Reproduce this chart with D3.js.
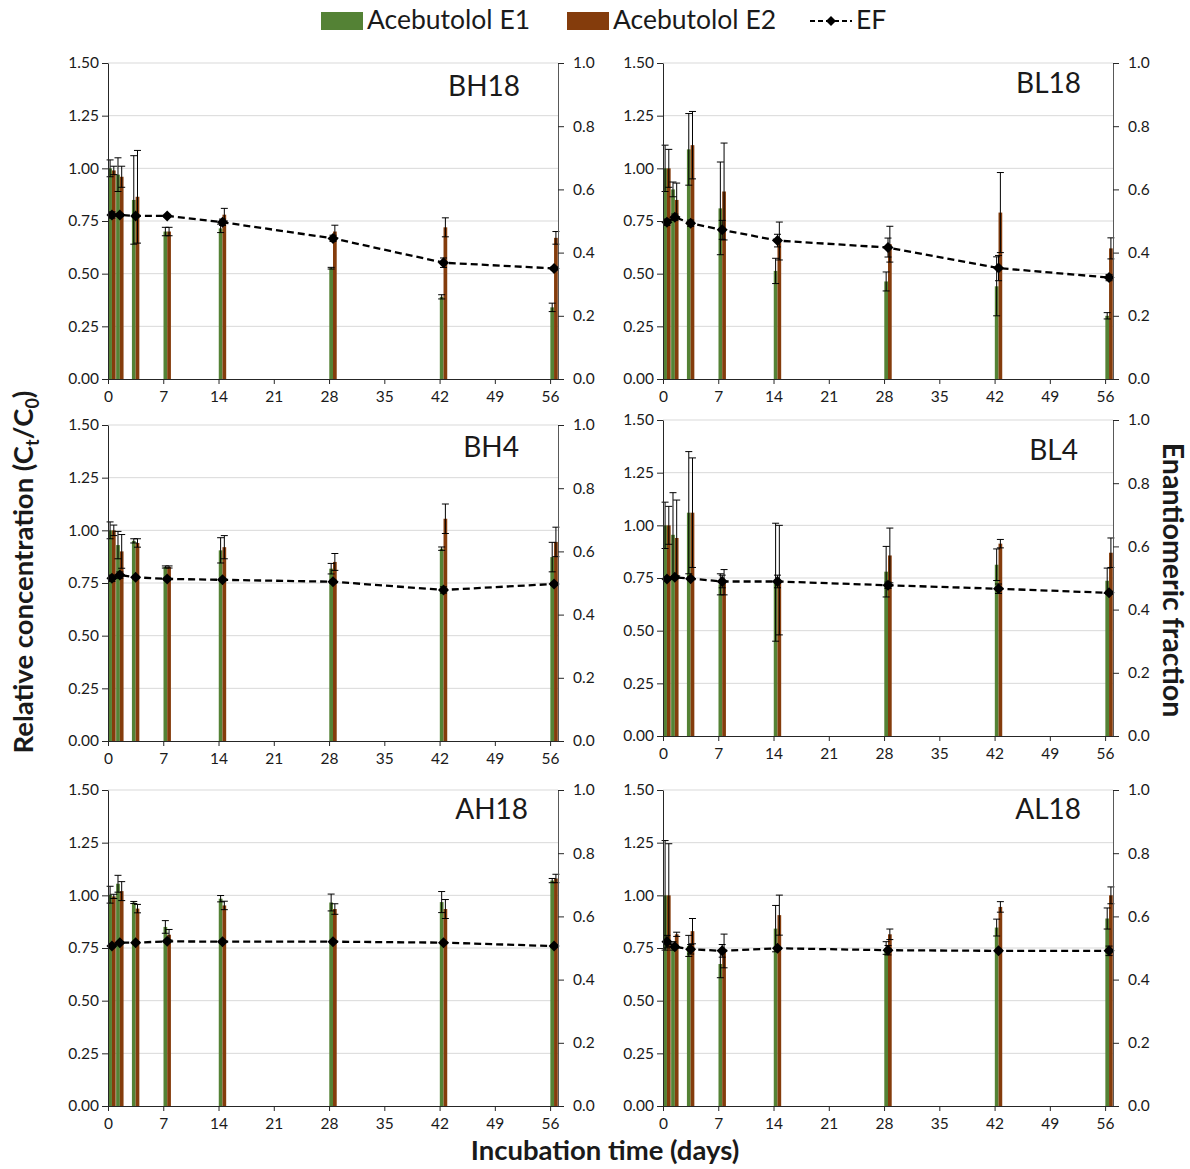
<!DOCTYPE html>
<html>
<head>
<meta charset="utf-8">
<script src="https://cdn.jsdelivr.net/npm/d3@7"></script>
<style>
  body { margin: 0; background: #fff; }
  svg { display: block; }
  text { font-family: Lato, "Open Sans", sans-serif; fill: #1a1a1a; }
</style>
</head>
<body>
<svg id="chart" width="1190" height="1169"></svg>
<script>
// Sampling days of the incubation
const days = [0, 1, 3, 7, 14, 28, 42, 56];
const dayTicks = [0, 7, 14, 21, 28, 35, 42, 49, 56];
const concTicks = [0, 0.25, 0.5, 0.75, 1.0, 1.25, 1.5];
const efTicks = [0, 0.2, 0.4, 0.6, 0.8, 1.0];
const seriesNames = ["Acebutolol E1", "Acebutolol E2", "EF"];

// BH18
const e1BH18 = [1.00, 0.97, 0.85, 0.70, 0.715, 0.526, 0.39, 0.34];
const e1ErrBH18 = [0.04, 0.08, 0.21, 0.02, 0.02, 0.004, 0.01, 0.02];
const e2BH18 = [0.99, 0.96, 0.865, 0.70, 0.78, 0.70, 0.72, 0.67];
const e2ErrBH18 = [0.02, 0.05, 0.22, 0.02, 0.03, 0.03, 0.045, 0.03];
const efBH18 = [0.519, 0.519, 0.516, 0.516, 0.496, 0.445, 0.368, 0.350];
const efErrBH18 = [0.01, 0.005, 0.005, 0.005, 0.01, 0.01, 0.015, 0.005];

// BL18
const e1BL18 = [1.00, 0.90, 1.09, 0.81, 0.513, 0.463, 0.44, 0.30];
const e1ErrBL18 = [0.11, 0.035, 0.17, 0.22, 0.06, 0.045, 0.14, 0.015];
const e2BL18 = [1.00, 0.85, 1.11, 0.89, 0.655, 0.64, 0.79, 0.62];
const e2ErrBL18 = [0.09, 0.08, 0.16, 0.23, 0.09, 0.085, 0.19, 0.05];
const efBL18 = [0.496, 0.512, 0.493, 0.472, 0.438, 0.416, 0.351, 0.321];
const efErrBL18 = [0.01, 0.01, 0.01, 0.03, 0.02, 0.03, 0.04, 0.01];

// BH4
const e1BH4 = [1.00, 0.93, 0.95, 0.826, 0.905, 0.818, 0.913, 0.873];
const e1ErrBH4 = [0.04, 0.065, 0.01, 0.005, 0.06, 0.025, 0.008, 0.07];
const e2BH4 = [1.00, 0.90, 0.94, 0.826, 0.92, 0.85, 1.055, 0.945];
const e2ErrBH4 = [0.025, 0.08, 0.02, 0.005, 0.055, 0.04, 0.07, 0.07];
const efBH4 = [0.515, 0.525, 0.518, 0.513, 0.51, 0.504, 0.478, 0.497];
const efErrBH4 = [0.01, 0.01, 0.005, 0.005, 0.005, 0.005, 0.01, 0.005];

// BL4
const e1BL4 = [1.00, 0.955, 1.06, 0.72, 0.73, 0.78, 0.813, 0.737];
const e1ErrBL4 = [0.11, 0.20, 0.29, 0.05, 0.28, 0.12, 0.075, 0.06];
const e2BL4 = [1.00, 0.94, 1.06, 0.73, 0.74, 0.857, 0.913, 0.87];
const e2ErrBL4 = [0.09, 0.18, 0.26, 0.06, 0.26, 0.13, 0.02, 0.07];
const efBL4 = [0.497, 0.502, 0.498, 0.489, 0.489, 0.477, 0.466, 0.453];
const efErrBL4 = [0.005, 0.005, 0.005, 0.02, 0.02, 0.01, 0.015, 0.005];

// AH18
const e1AH18 = [1.003, 1.055, 0.966, 0.85, 0.984, 0.966, 0.968, 1.07];
const e1ErrAH18 = [0.04, 0.04, 0.005, 0.03, 0.015, 0.04, 0.05, 0.01];
const e2AH18 = [0.995, 1.02, 0.937, 0.813, 0.952, 0.935, 0.935, 1.08];
const e2ErrAH18 = [0.01, 0.045, 0.02, 0.025, 0.02, 0.025, 0.045, 0.02];
const efAH18 = [0.506, 0.517, 0.517, 0.521, 0.52, 0.52, 0.517, 0.506];
const efErrAH18 = [0.005, 0.003, 0.003, 0.003, 0.003, 0.003, 0.003, 0.003];

// AL18
const e1AL18 = [1.00, 0.76, 0.76, 0.674, 0.842, 0.75, 0.847, 0.89];
const e1ErrAL18 = [0.26, 0.02, 0.05, 0.065, 0.11, 0.03, 0.04, 0.05];
const e2AL18 = [1.00, 0.815, 0.83, 0.736, 0.906, 0.815, 0.945, 1.00];
const e2ErrAL18 = [0.245, 0.01, 0.06, 0.08, 0.095, 0.025, 0.025, 0.04];
const efAL18 = [0.52, 0.504, 0.496, 0.491, 0.499, 0.493, 0.491, 0.491];
const efErrAL18 = [0.02, 0.005, 0.015, 0.02, 0.005, 0.015, 0.005, 0.015];

const colorE1 = "#548235";
const colorE2 = "#843c0c";

// Panel frames (plot-area edges in pixels) and label anchors
const panels = [
  { name: "BH18", e1: e1BH18, e1Err: e1ErrBH18, e2: e2BH18, e2Err: e2ErrBH18, ef: efBH18, efErr: efErrBH18,
    left: 108, right: 558, top: 63, bottom: 379, labelX: 520, labelY: 96 },
  { name: "BL18", e1: e1BL18, e1Err: e1ErrBL18, e2: e2BL18, e2Err: e2ErrBL18, ef: efBL18, efErr: efErrBL18,
    left: 663, right: 1113, top: 63, bottom: 379, labelX: 1081, labelY: 93 },
  { name: "BH4", e1: e1BH4, e1Err: e1ErrBH4, e2: e2BH4, e2Err: e2ErrBH4, ef: efBH4, efErr: efErrBH4,
    left: 108, right: 558, top: 425, bottom: 741, labelX: 519, labelY: 457 },
  { name: "BL4", e1: e1BL4, e1Err: e1ErrBL4, e2: e2BL4, e2Err: e2ErrBL4, ef: efBL4, efErr: efErrBL4,
    left: 663, right: 1113, top: 420, bottom: 736, labelX: 1078, labelY: 460 },
  { name: "AH18", e1: e1AH18, e1Err: e1ErrAH18, e2: e2AH18, e2Err: e2ErrAH18, ef: efAH18, efErr: efErrAH18,
    left: 108, right: 558, top: 790, bottom: 1106, labelX: 528, labelY: 819 },
  { name: "AL18", e1: e1AL18, e1Err: e1ErrAL18, e2: e2AL18, e2Err: e2ErrAL18, ef: efAL18, efErr: efErrAL18,
    left: 663, right: 1113, top: 790, bottom: 1106, labelX: 1081, labelY: 819 }
];

const svg = d3.select("#chart");
const capHalf = 3.5;
const diamond = r => `M0,${-r}L${r},0L0,${r}L${-r},0Z`;

function drawErr(g, cx, y, v, e) {
  g.append("line").attr("x1", cx).attr("x2", cx)
    .attr("y1", y(v - e)).attr("y2", y(v + e))
    .attr("stroke", "#000").attr("stroke-width", 1);
  [v - e, v + e].forEach(t => {
    g.append("line").attr("x1", cx - capHalf).attr("x2", cx + capHalf)
      .attr("y1", y(t)).attr("y2", y(t))
      .attr("stroke", "#000").attr("stroke-width", 1);
  });
}

panels.forEach(p => {
  const g = svg.append("g");
  const x = d3.scaleLinear().domain([0, 57]).range([p.left, p.right]);
  const y = d3.scaleLinear().domain([0, 1.5]).range([p.bottom, p.top]);
  const yR = d3.scaleLinear().domain([0, 1]).range([p.bottom, p.top]);

  // horizontal gridlines
  g.append("g").selectAll("line").data(concTicks.filter(t => t > 0)).join("line")
    .attr("x1", p.left).attr("x2", p.right)
    .attr("y1", d => y(d)).attr("y2", d => y(d))
    .attr("stroke", "#d9d9d9").attr("stroke-width", 1);

  // paired enantiomer bars, one day wide per sampling point
  const bars = g.append("g");
  days.forEach((d, i) => {
    bars.append("rect")
      .attr("x", x(d + 0.03)).attr("width", x(d + 0.5) - x(d + 0.03))
      .attr("y", y(p.e1[i])).attr("height", y(0) - y(p.e1[i]))
      .attr("fill", colorE1);
    bars.append("rect")
      .attr("x", x(d + 0.5)).attr("width", x(d + 0.97) - x(d + 0.5))
      .attr("y", y(p.e2[i])).attr("height", y(0) - y(p.e2[i]))
      .attr("fill", colorE2);
  });

  const errs = g.append("g");
  days.forEach((d, i) => {
    drawErr(errs, x(d + 0.265), y, p.e1[i], p.e1Err[i]);
    drawErr(errs, x(d + 0.735), y, p.e2[i], p.e2Err[i]);
  });

  // enantiomeric fraction on the secondary axis
  const line = d3.line().x((v, i) => x(days[i] + 0.5)).y(v => yR(v));
  g.append("path").datum(p.ef).attr("d", line)
    .attr("fill", "none").attr("stroke", "#000")
    .attr("stroke-width", 2.3).attr("stroke-dasharray", "7,4");
  days.forEach((d, i) => drawErr(errs, x(d + 0.5), yR, p.ef[i], p.efErr[i]));
  g.append("g").selectAll("path").data(p.ef).join("path")
    .attr("d", diamond(5.5))
    .attr("transform", (v, i) => `translate(${x(days[i] + 0.5)},${yR(v)})`)
    .attr("fill", "#000");

  // axes
  const axL = g.append("g").attr("transform", `translate(${p.left},0)`)
    .call(d3.axisLeft(y).tickValues(concTicks).tickFormat(d3.format(".2f")).tickSize(6).tickSizeOuter(0).tickPadding(3));
  const axR = g.append("g").attr("transform", `translate(${p.right},0)`)
    .call(d3.axisRight(yR).tickValues(efTicks).tickFormat(d3.format(".1f")).tickSize(6).tickSizeOuter(0).tickPadding(9));
  const axB = g.append("g").attr("transform", `translate(0,${p.bottom})`)
    .call(d3.axisBottom(x).tickValues(dayTicks).tickSize(5).tickSizeOuter(0).tickPadding(7));
  [axL, axR, axB].forEach(a => {
    a.selectAll("text").attr("font-size", 15.5).attr("fill", "#1a1a1a").style("font-family", "Lato, sans-serif");
    a.selectAll("line").attr("stroke", "#262626");
    a.select(".domain").attr("stroke", "#262626");
  });
  axR.select(".domain").attr("stroke", "#595959");

  g.append("text").attr("x", p.labelX).attr("y", p.labelY)
    .attr("text-anchor", "end").attr("font-size", 28).text(p.name);
});

// legend
const leg = svg.append("g");
leg.append("rect").attr("x", 321).attr("y", 12).attr("width", 42).attr("height", 18).attr("fill", colorE1);
leg.append("text").attr("x", 367).attr("y", 29).attr("font-size", 26.5).text(seriesNames[0]);
leg.append("rect").attr("x", 567).attr("y", 12).attr("width", 42).attr("height", 18).attr("fill", colorE2);
leg.append("text").attr("x", 613).attr("y", 29).attr("font-size", 26.5).text(seriesNames[1]);
leg.append("line").attr("x1", 810).attr("x2", 852).attr("y1", 21).attr("y2", 21)
  .attr("stroke", "#000").attr("stroke-width", 2).attr("stroke-dasharray", "5,3");
leg.append("path").attr("d", diamond(5)).attr("transform", "translate(831,21)").attr("fill", "#000");
leg.append("text").attr("x", 856).attr("y", 29).attr("font-size", 26.5).text(seriesNames[2]);

// axis titles
const yTitle = svg.append("text").attr("transform", "translate(33,572) rotate(-90)")
  .attr("text-anchor", "middle").attr("font-size", 27.5).attr("font-weight", "bold");
yTitle.append("tspan").text("Relative concentration (C");
yTitle.append("tspan").attr("font-size", 18).attr("dy", 6).text("t");
yTitle.append("tspan").attr("dy", -6).text("/C");
yTitle.append("tspan").attr("font-size", 18).attr("dy", 6).text("0");
yTitle.append("tspan").attr("dy", -6).text(")");

svg.append("text").attr("transform", "translate(1163,580) rotate(90)")
  .attr("text-anchor", "middle").attr("font-size", 28.5).attr("font-weight", "bold")
  .text("Enantiomeric fraction");

svg.append("text").attr("x", 605).attr("y", 1160)
  .attr("text-anchor", "middle").attr("font-size", 27.5).attr("font-weight", "bold")
  .text("Incubation time (days)");
</script>
</body>
</html>
